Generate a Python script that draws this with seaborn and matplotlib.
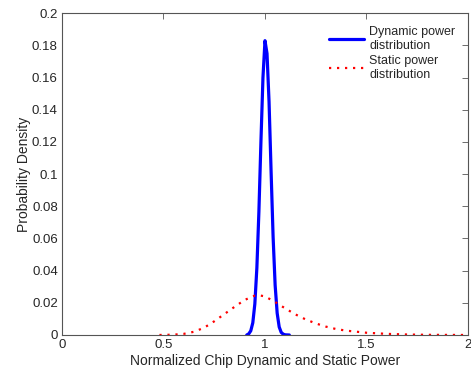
import numpy as np
import pandas as pd
import matplotlib
matplotlib.use("Agg")
import matplotlib.pyplot as plt
import seaborn as sns

# ── Données ─────────────────────────────────────────────────────────────────
dyn_x = [0.91, 0.92, 0.93, 0.94, 0.95, 0.96, 0.97, 0.98, 0.99, 1.00,
         1.01, 1.02, 1.03, 1.04, 1.05, 1.06, 1.07, 1.08, 1.09, 1.10, 1.12]
dyn_y = [0.0, 0.0007, 0.0026, 0.0076, 0.0193, 0.0417, 0.0766, 0.120, 0.160, 0.183,
         0.175, 0.145, 0.102, 0.061, 0.031, 0.0136, 0.005, 0.0016, 0.0005, 0.0001, 0.0]

stat_x = [0.48, 0.55, 0.60, 0.65, 0.70, 0.75, 0.80, 0.85, 0.90, 0.95, 0.97,
          1.00, 1.05, 1.10, 1.15, 1.20, 1.25, 1.30, 1.35, 1.40, 1.50, 1.60,
          1.70, 1.80, 2.00]
stat_y = [0.0, 0.0002, 0.0007, 0.002, 0.0045, 0.0085, 0.013, 0.0175, 0.0218,
          0.0245, 0.0247, 0.024, 0.0205, 0.0165, 0.0128, 0.0097, 0.0072,
          0.0052, 0.0037, 0.0027, 0.0014, 0.0007, 0.0003, 0.0001, 0.0]

x_ticks = [0, 0.5, 1, 1.5, 2]
x_labels = ["0", "0.5", "1", "1.5", "2"]
y_ticks = [0, 0.02, 0.04, 0.06, 0.08, 0.1, 0.12, 0.14, 0.16, 0.18, 0.2]
y_labels = ["0", "0.02", "0.04", "0.06", "0.08", "0.1", "0.12", "0.14",
            "0.16", "0.18", "0.2"]

dyn = pd.DataFrame({"x": dyn_x, "y": dyn_y})
stat = pd.DataFrame({"x": stat_x, "y": stat_y})

# ── Tracé ────────────────────────────────────────────────────────────────────
sns.set_style("white")
plt.rcParams["font.family"] = ["Liberation Sans", "DejaVu Sans"]

fig = plt.figure(figsize=(4.71, 3.74), dpi=100)
ax = fig.add_axes([0.1316, 0.1043, 0.8620, 0.8601])

sns.lineplot(data=dyn, x="x", y="y", ax=ax, color="#0000ff", lw=2.3,
             label="Dynamic power\ndistribution")
sns.lineplot(data=stat, x="x", y="y", ax=ax, color="#ff0000", lw=1.6,
             linestyle=(0, (1, 2.6)), label="Static power\ndistribution")

ax.set_xlim(0, 2)
ax.set_ylim(0, 0.2)
ax.set_xticks(x_ticks)
ax.set_xticklabels(x_labels)
ax.set_yticks(y_ticks)
ax.set_yticklabels(y_labels)
ax.tick_params(direction="in", length=4, width=0.6, color="#555555",
               labelsize=9.5, top=True, right=True, pad=3)
for s in ax.spines.values():
    s.set_color("#555555")
    s.set_linewidth(0.8)

ax.set_xlabel("Normalized Chip Dynamic and Static Power", fontsize=10, labelpad=2)
ax.set_ylabel("Probability Density", fontsize=10, labelpad=1)

ax.legend(loc="upper right", frameon=False, fontsize=9, handlelength=2.8,
          handletextpad=0.45, labelspacing=0.3, borderaxespad=0.6)

plt.savefig("out.png", dpi=100)
